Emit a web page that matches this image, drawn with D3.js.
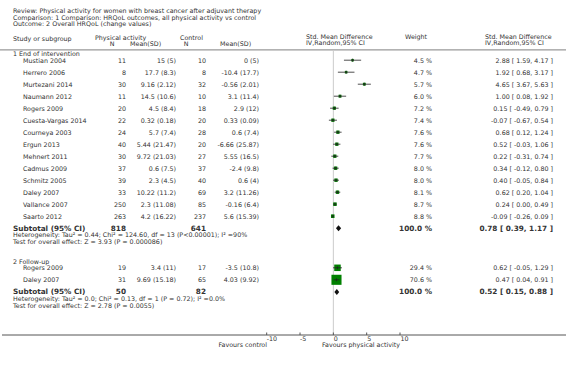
<!DOCTYPE html>
<html>
<head>
<meta charset="utf-8">
<script src="https://cdn.jsdelivr.net/npm/d3@7"></script>
<style>
  body { margin: 0; background: #fff; }
  svg text { font-family: "DejaVu Sans", Verdana, sans-serif; fill: #333; }
</style>
</head>
<body>
<div id="chart"></div>
<script>
const width = 566,
  height = 365;

// header lines
const titleLines = [
  "Review:  Physical activity for women with breast cancer after adjuvant therapy",
  "Comparison:  1 Comparison: HRQoL outcomes, all physical activity vs control",
  "Outcome:  2 Overall HRQoL (change values)"
];

// subgroup 1: end of intervention
const names1 = ["Mustian 2004", "Herrero 2006", "Murtezani 2014", "Naumann 2012", "Rogers 2009",
  "Cuesta-Vargas 2014", "Courneya 2003", "Ergun 2013", "Mehnert 2011", "Cadmus 2009",
  "Schmitz 2005", "Daley 2007", "Vallance 2007", "Saarto 2012"];
const nPA1 = [11, 8, 30, 11, 20, 22, 24, 40, 30, 37, 39, 33, 250, 263];
const meanPA1 = ["15 (5)", "17.7 (8.3)", "9.16 (2.12)", "14.5 (10.6)", "4.5 (8.4)", "0.32 (0.18)",
  "5.7 (7.4)", "5.44 (21.47)", "9.72 (21.03)", "0.6 (7.5)", "2.3 (4.5)", "10.22 (11.2)",
  "2.3 (11.08)", "4.2 (16.22)"];
const nC1 = [10, 8, 32, 10, 18, 20, 28, 20, 27, 37, 40, 69, 85, 237];
const meanC1 = ["0 (5)", "-10.4 (17.7)", "-0.56 (2.01)", "3.1 (11.4)", "2.9 (12)", "0.33 (0.09)",
  "0.6 (7.4)", "-6.66 (25.87)", "5.55 (16.5)", "-2.4 (9.8)", "0.6 (4)", "3.2 (11.26)",
  "-0.16 (6.4)", "5.6 (15.39)"];
const smd1 = [2.88, 1.92, 4.65, 1.00, 0.15, -0.07, 0.68, 0.52, 0.22, 0.34, 0.40, 0.62, 0.24, -0.09];
const lo1 = [1.59, 0.68, 3.67, 0.08, -0.49, -0.67, 0.12, -0.03, -0.31, -0.12, -0.05, 0.20, 0.00, -0.26];
const hi1 = [4.17, 3.17, 5.63, 1.92, 0.79, 0.54, 1.24, 1.06, 0.74, 0.80, 0.84, 1.04, 0.49, 0.09];
const weight1 = [4.5, 4.7, 5.7, 6.0, 7.2, 7.4, 7.6, 7.6, 7.7, 8.0, 8.0, 8.1, 8.7, 8.8];

// subgroup 2: follow-up
const names2 = ["Rogers 2009", "Daley 2007"];
const nPA2 = [19, 31];
const meanPA2 = ["3.4 (11)", "9.69 (15.18)"];
const nC2 = [17, 65];
const meanC2 = ["-3.5 (10.8)", "4.03 (9.92)"];
const smd2 = [0.62, 0.47];
const lo2 = [-0.05, 0.04];
const hi2 = [1.29, 0.91];
const weight2 = [29.4, 70.6];

// subtotals
const subLabels = ["1 End of intervention", "2 Follow-up"];
const subN = [[818, 641], [50, 82]];
const subEst = [[0.78, 0.39, 1.17], [0.52, 0.15, 0.88]];
const hetText = [
  ["Heterogeneity: Tau\u00b2 = 0.44; Chi\u00b2 = 124.60, df = 13 (P<0.00001); I\u00b2 =90%",
   "Test for overall effect: Z = 3.93 (P = 0.000086)"],
  ["Heterogeneity: Tau\u00b2 = 0.0; Chi\u00b2 = 0.13, df = 1 (P = 0.72); I\u00b2 =0.0%",
   "Test for overall effect: Z = 2.78 (P = 0.0055)"]
];
const xTicks = [-10, -5, 0, 5, 10];

const groups = [
  { label: subLabels[0], names: names1, nPA: nPA1, mPA: meanPA1, nC: nC1, mC: meanC1, smd: smd1, lo: lo1, hi: hi1, w: weight1, tot: subN[0], est: subEst[0], het: hetText[0] },
  { label: subLabels[1], names: names2, nPA: nPA2, mPA: meanPA2, nC: nC2, mC: meanC2, smd: smd2, lo: lo2, hi: hi2, w: weight2, tot: subN[1], est: subEst[1], het: hetText[1] }
];

const x = d3.scaleLinear().domain([-10, 10]).range([266.7, 400]);
// row units -> pixel centre
const y = d3.scaleLinear().domain([0, 1]).range([60.7, 72.7]);
const boxSize = d3.scaleSqrt().domain([0, 100]).range([0, 12]);

// plain hyphen minus, like the original
const fmt = v => v.toFixed(2);

const svg = d3.select("#chart").append("svg")
  .attr("width", width)
  .attr("height", height);

const fs = 6.35;

// titles
svg.append("g").selectAll("text")
  .data(titleLines)
  .join("text")
  .attr("x", 13)
  .attr("y", (d, i) => 13 + i * 6.6)
  .attr("font-size", fs)
  .text(d => d);

// column headers
const hdr = svg.append("g").attr("font-size", fs);
hdr.append("text").attr("x", 13).attr("y", 40.5).text("Study or subgroup");
hdr.append("text").attr("x", 95).attr("y", 40).text("Physical activity");
hdr.append("text").attr("x", 112).attr("y", 45.5).attr("text-anchor", "middle").text("N");
hdr.append("text").attr("x", 130).attr("y", 45.5).text("Mean(SD)");
hdr.append("text").attr("x", 180).attr("y", 40).text("Control");
hdr.append("text").attr("x", 186).attr("y", 45.5).attr("text-anchor", "middle").text("N");
hdr.append("text").attr("x", 220).attr("y", 45.5).text("Mean(SD)");
hdr.append("text").attr("x", 306).attr("y", 39).text("Std. Mean Difference");
hdr.append("text").attr("x", 306).attr("y", 44.5).text("IV,Random,95% CI");
hdr.append("text").attr("x", 405).attr("y", 39).text("Weight");
hdr.append("text").attr("x", 485).attr("y", 39).text("Std. Mean Difference");
hdr.append("text").attr("x", 485).attr("y", 44.5).text("IV,Random,95% CI");

svg.append("line")
  .attr("x1", 0).attr("x2", width)
  .attr("y1", 49.8).attr("y2", 49.8)
  .attr("stroke", "#999").attr("stroke-width", 1.3);

// zero line
svg.append("line")
  .attr("x1", x(0)).attr("x2", x(0))
  .attr("y1", 50.5).attr("y2", 335)
  .attr("stroke", "#ccc").attr("stroke-width", 1);

// lay out rows (in row units)
let pos = -0.55;
groups.forEach((g, gi) => {
  g.labelPos = pos;
  pos += 0.55;
  g.rowPos = g.names.map((n, i) => pos + i);
  pos += g.names.length;
  g.subPos = pos - 0.03;
  g.hetPos = [pos + 0.56, pos + 1.1];
  pos += 2.75;
});

groups.forEach(g => {
  const gg = svg.append("g");

  gg.append("text")
    .attr("x", 13).attr("y", y(g.labelPos) + 2)
    .attr("font-size", fs)
    .text(g.label);

  const rows = g.names.map((n, i) => ({
    name: n, nPA: g.nPA[i], mPA: g.mPA[i], nC: g.nC[i], mC: g.mC[i],
    smd: g.smd[i], lo: g.lo[i], hi: g.hi[i], w: g.w[i], p: g.rowPos[i]
  }));

  const row = gg.selectAll("g.row")
    .data(rows)
    .join("g")
    .attr("class", "row")
    .attr("transform", d => `translate(0,${y(d.p)})`)
    .attr("font-size", fs);

  row.append("text").attr("x", 23).attr("y", 2).text(d => d.name);
  row.append("text").attr("x", 126).attr("y", 2).attr("text-anchor", "end").text(d => d.nPA);
  row.append("text").attr("x", 176).attr("y", 2).attr("text-anchor", "end").text(d => d.mPA);
  row.append("text").attr("x", 206).attr("y", 2).attr("text-anchor", "end").text(d => d.nC);
  row.append("text").attr("x", 259).attr("y", 2).attr("text-anchor", "end").text(d => d.mC);
  row.append("text").attr("x", 432).attr("y", 2).attr("text-anchor", "end").text(d => d.w.toFixed(1) + " %");
  row.append("text").attr("x", 553).attr("y", 2).attr("text-anchor", "end")
    .attr("xml:space", "preserve")
    .text(d => `${fmt(d.smd)} [ ${fmt(d.lo)}, ${fmt(d.hi)} ]`);

  // marker
  row.append("rect")
    .attr("x", d => x(d.smd) - boxSize(d.w) / 2)
    .attr("y", d => -boxSize(d.w) / 2 - 0.5)
    .attr("width", d => boxSize(d.w))
    .attr("height", d => boxSize(d.w))
    .attr("fill", "#008000");
  row.append("line")
    .attr("x1", d => x(d.lo)).attr("x2", d => x(d.hi))
    .attr("y1", -0.5).attr("y2", -0.5)
    .attr("stroke", "#222").attr("stroke-width", 0.8);
  row.append("line")
    .attr("x1", d => x(d.smd)).attr("x2", d => x(d.smd))
    .attr("y1", -2).attr("y2", 1)
    .attr("stroke", "#222").attr("stroke-width", 0.8);

  // subtotal
  const ys = y(g.subPos);
  const bold = gg.append("g").attr("font-size", 7.3).attr("font-weight", "bold");
  bold.append("text").attr("x", 13).attr("y", ys + 2.5).text("Subtotal (95% CI)");
  bold.append("text").attr("x", 126).attr("y", ys + 2.5).attr("text-anchor", "end").text(g.tot[0]);
  bold.append("text").attr("x", 206).attr("y", ys + 2.5).attr("text-anchor", "end").text(g.tot[1]);
  bold.append("text").attr("x", 432).attr("y", ys + 2.5).attr("text-anchor", "end").text("100.0 %");
  bold.append("text").attr("x", 553).attr("y", ys + 2.5).attr("text-anchor", "end")
    .text(`${fmt(g.est[0])} [ ${fmt(g.est[1])}, ${fmt(g.est[2])} ]`);

  const [e, l, h] = g.est;
  gg.append("path")
    .attr("d", `M${x(l)},${ys}L${x(e)},${ys - 3}L${x(h)},${ys}L${x(e)},${ys + 3}Z`)
    .attr("fill", "#111");

  gg.selectAll("text.het")
    .data(g.het)
    .join("text")
    .attr("class", "het")
    .attr("x", 13)
    .attr("y", (d, i) => y(g.hetPos[i]) + 2)
    .attr("font-size", fs)
    .text(d => d);
});

// axis
const axisY = 335;
svg.append("line")
  .attr("x1", 2).attr("x2", width)
  .attr("y1", axisY).attr("y2", axisY)
  .attr("stroke", "#555").attr("stroke-width", 1);

const ax = svg.append("g");
ax.selectAll("line")
  .data(xTicks)
  .join("line")
  .attr("x1", d => x(d)).attr("x2", d => x(d))
  .attr("y1", axisY - 2.5).attr("y2", axisY)
  .attr("stroke", "#555");
ax.selectAll("text")
  .data(xTicks)
  .join("text")
  .attr("x", d => x(d) + (d < 0 ? 0 : 0.5))
  .attr("y", axisY + 6)
  .attr("font-size", fs)
  .text(d => d);

svg.append("text")
  .attr("x", 267).attr("y", axisY + 12)
  .attr("text-anchor", "end")
  .attr("font-size", fs)
  .text("Favours control");
svg.append("text")
  .attr("x", 322).attr("y", axisY + 12)
  .attr("font-size", fs)
  .text("Favours physical activity");
</script>
</body>
</html>
